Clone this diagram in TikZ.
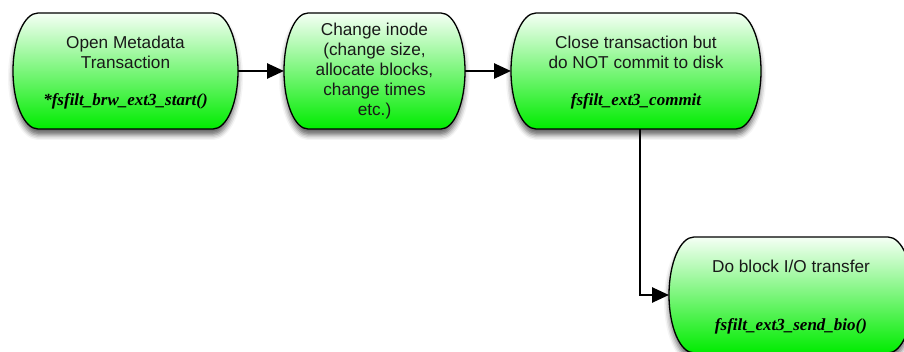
\documentclass[tikz,border=0pt]{standalone}
\usepackage{fontspec}
\setmainfont{Liberation Sans}
\newfontfamily\codefont{Liberation Serif}
\usetikzlibrary{arrows.meta,shadows.blur}
\definecolor{boxtop}{RGB}{245,255,245}
\definecolor{boxbot}{RGB}{0,236,0}
\tikzset{
  box/.style={rectangle, minimum height=116pt, inner sep=0pt, outer sep=0pt},
  title/.style={align=center, font=\fontsize{17.2}{20}\selectfont, inner sep=0pt, text=black!90},
  code/.style={font=\codefont\bfseries\itshape\fontsize{17}{20}\selectfont, inner sep=0pt},
  stadium/.style={draw=black, line width=1.3pt, top color=boxtop, bottom color=boxbot,
    blur shadow={shadow xshift=0pt, shadow yshift=-6pt, shadow blur radius=5pt, shadow opacity=60}},
  arr/.style={draw=black, line width=2.6pt, -{Triangle[length=17pt,width=15pt]}}
}
\newcommand\stadiumpath[2]{%
  \path[stadium] ([xshift=#2]#1.north west) -- ([xshift=-#2]#1.north east)
    arc[start angle=90,end angle=-90,x radius=#2,y radius=58pt]
    -- ([xshift=#2]#1.south west)
    arc[start angle=270,end angle=90,x radius=#2,y radius=58pt] -- cycle;}
\begin{document}
\begin{tikzpicture}[x=1pt,y=1pt]
\useasboundingbox (0,0) rectangle (904,351);
\node[box, minimum width=225pt] (b1) at (125.5,280) {};
\node[box, minimum width=181pt] (b2) at (374.5,280) {};
\node[box, minimum width=250pt] (b3) at (636,280) {};
\node[box, minimum width=244pt] (b4) at (791,56) {};
\stadiumpath{b1}{25pt}
\stadiumpath{b2}{24pt}
\stadiumpath{b3}{25pt}
\stadiumpath{b4}{25pt}
\node[title] (b1t) at ([yshift=19pt]b1.center) {Open Metadata\\Transaction};
\node[code] (b1c) at ([yshift=-30pt]b1.center) {*fsfilt\_brw\_ext3\_start()};
\node[title] (b2t) at (b2.center) {Change inode\\(change size,\\allocate blocks,\\change times\\etc.)};
\node[title] (b3t) at ([yshift=19pt]b3.center) {Close transaction but\\do NOT commit to disk};
\node[code] (b3c) at ([yshift=-30pt]b3.center) {fsfilt\_ext3\_commit};
\node[title] (b4t) at ([yshift=29pt]b4.center) {Do block I/O transfer};
\node[code] (b4c) at ([yshift=-31pt]b4.center) {fsfilt\_ext3\_send\_bio()};
\draw[arr] (b1.east) -- (b2.west);
\draw[arr] (b2.east) -- (b3.west);
\draw[arr] ([xshift=4pt]b3.south) |- (b4.west);
\end{tikzpicture}
\end{document}
